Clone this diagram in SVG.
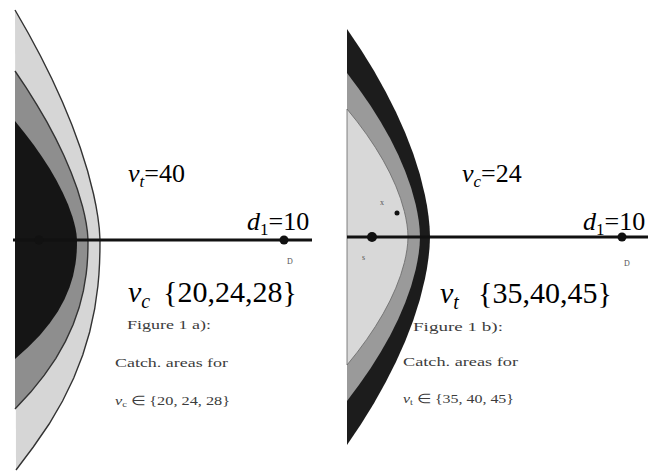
<svg xmlns="http://www.w3.org/2000/svg" width="659" height="471" viewBox="0 0 659 471">
<style>
.big{fill:#000}
.it{font-style:italic}
.small{fill:#3c3c3c;font-size:12.5px}
.tiny{fill:#555;font-size:8px}
.edge{fill:none;stroke:#333;stroke-width:1.4}
.axis{stroke:#111;stroke-width:3;fill:none}
.dot{fill:#111}
</style>
<rect width="659" height="471" fill="#fff"/>
<g id="fig-a-regions">
<polygon fill="#d6d6d6" points="15,10 28.18,33 40.52,56 51.97,79 62.46,102 71.96,125 80.37,148 87.62,171 93.53,194 95.91,205.5 97.87,217 99.29,228.5 100,240 99.91,251.5 99.57,263 98.92,274.5 97.9,286 94.67,309 89.67,332 82.74,355 73.74,378 62.57,401 49.12,424 33.29,447 16,470"/>
<polygon fill="#8e8e8e" points="15,71 26.32,87.9 36.91,104.8 46.75,121.7 55.76,138.6 63.92,155.5 71.14,172.4 77.36,189.3 82.44,206.2 84.49,214.65 86.17,223.1 87.39,231.55 88,240 87.93,248.45 87.64,256.9 87.07,265.35 86.2,273.8 83.42,290.7 79.13,307.6 73.17,324.5 65.45,341.4 55.86,358.3 44.3,375.2 30.71,392.1 15,409"/>
<polygon fill="#151515" points="15,121 24.62,132.9 33.61,144.8 41.96,156.7 49.62,168.6 56.55,180.5 62.68,192.4 67.97,204.3 72.28,216.2 74.02,222.15 75.44,228.1 76.49,234.05 77,240 76.94,245.95 76.69,251.9 76.21,257.85 75.47,263.8 73.11,275.7 69.47,287.6 64.41,299.5 57.85,311.4 49.7,323.3 39.89,335.2 28.34,347.1 15,359"/>
<polyline class="edge" points="15,10 28.18,33 40.52,56 51.97,79 62.46,102 71.96,125 80.37,148 87.62,171 93.53,194 95.91,205.5 97.87,217 99.29,228.5 100,240 99.91,251.5 99.57,263 98.92,274.5 97.9,286 94.67,309 89.67,332 82.74,355 73.74,378 62.57,401 49.12,424 33.29,447 16,470"/>
<polyline class="edge" points="15,71 26.32,87.9 36.91,104.8 46.75,121.7 55.76,138.6 63.92,155.5 71.14,172.4 77.36,189.3 82.44,206.2 84.49,214.65 86.17,223.1 87.39,231.55 88,240 87.93,248.45 87.64,256.9 87.07,265.35 86.2,273.8 83.42,290.7 79.13,307.6 73.17,324.5 65.45,341.4 55.86,358.3 44.3,375.2 30.71,392.1 15,409"/>
</g>
<g id="fig-b-regions">
<polygon fill="#1c1c1c" points="347,29 360.98,49.8 373.83,70.6 385.54,91.4 396.05,112.2 405.32,133 413.3,153.8 419.91,174.6 425.04,195.4 427,205.8 428.52,216.2 429.56,226.6 430,237 429.56,247.4 428.52,257.8 427,268.2 425.04,278.6 419.91,299.4 413.3,320.2 405.32,341 396.05,361.8 385.54,382.6 373.83,403.4 360.98,424.2 347,445"/>
<polygon fill="#9a9a9a" points="347,73 359.29,89.4 370.6,105.8 380.89,122.2 390.14,138.6 398.3,155 405.31,171.4 411.12,187.8 415.64,204.2 417.36,212.4 418.7,220.6 419.61,228.8 420,237 419.61,245.2 418.7,253.4 417.36,261.6 415.64,269.8 411.12,286.2 405.31,302.6 398.3,319 390.14,335.4 380.89,351.8 370.6,368.2 359.29,384.6 347,401"/>
<polygon fill="#d8d8d8" stroke="#666" stroke-width="0.8" points="347,109 357.27,121.8 366.72,134.6 375.32,147.4 383.05,160.2 389.86,173 395.73,185.8 400.58,198.6 404.35,211.4 405.79,217.8 406.92,224.2 407.68,230.6 408,237 407.68,243.4 406.92,249.8 405.79,256.2 404.35,262.6 400.58,275.4 395.73,288.2 389.86,301 383.05,313.8 375.32,326.6 366.72,339.4 357.27,352.2 347,365"/>
</g>
<g id="connectors">
<line class="axis" x1="13" y1="240" x2="312" y2="240"/>
<line class="axis" x1="347" y1="237" x2="648" y2="237"/>
</g>
<g id="node-a-s"><circle class="dot" cx="39" cy="240" r="4.5"/></g>
<g id="node-a-D"><circle class="dot" cx="284" cy="240" r="4.5"/><text class="tiny" font-family="Liberation Serif, serif" x="287" y="264">D</text></g>
<g id="node-b-s"><circle class="dot" cx="372" cy="237" r="5"/><text class="tiny" font-family="Liberation Serif, serif" x="362" y="260">s</text></g>
<g id="node-b-D"><circle class="dot" cx="622" cy="237" r="4.5"/><text class="tiny" font-family="Liberation Serif, serif" x="624" y="266">D</text></g>
<g id="node-b-x"><circle class="dot" cx="397" cy="213" r="2.5"/><text class="tiny" font-family="Liberation Serif, serif" x="380" y="205">x</text></g>
<g id="labels-a">
<text class="big" font-family="Liberation Serif, serif" x="128" y="182" font-size="26"><tspan class="it">v</tspan><tspan class="it" font-size="17" dy="5">t</tspan><tspan dy="-5">=40</tspan></text>
<text class="big" font-family="Liberation Serif, serif" x="247" y="230" font-size="26"><tspan class="it">d</tspan><tspan font-size="17" dy="5">1</tspan><tspan dy="-5">=10</tspan></text>
<text class="big" font-family="Liberation Serif, serif" x="128" y="302" font-size="30"><tspan class="it">v</tspan><tspan class="it" font-size="20" dy="6">c</tspan></text>
<text class="big" font-family="Liberation Serif, serif" x="163" y="302" font-size="30">{20,24,28}</text>
<text class="small" font-family="Liberation Serif, serif" x="127" y="329" textLength="84" lengthAdjust="spacingAndGlyphs">Figure 1 a):</text>
<text class="small" font-family="Liberation Serif, serif" x="115" y="367" textLength="113" lengthAdjust="spacingAndGlyphs">Catch. areas for</text>
<text class="small" font-family="Liberation Serif, serif" x="115" y="405" textLength="115" lengthAdjust="spacingAndGlyphs"><tspan font-style="italic">v</tspan><tspan font-size="8" dy="2">c</tspan><tspan dy="-2"> ∈ {20, 24, 28}</tspan></text>
</g>
<g id="labels-b">
<text class="big" font-family="Liberation Serif, serif" x="462" y="182" font-size="26"><tspan class="it">v</tspan><tspan class="it" font-size="17" dy="5">c</tspan><tspan dy="-5">=24</tspan></text>
<text class="big" font-family="Liberation Serif, serif" x="583" y="230" font-size="26"><tspan class="it">d</tspan><tspan font-size="17" dy="5">1</tspan><tspan dy="-5">=10</tspan></text>
<text class="big" font-family="Liberation Serif, serif" x="440" y="303" font-size="30"><tspan class="it">v</tspan><tspan class="it" font-size="20" dy="6">t</tspan></text>
<text class="big" font-family="Liberation Serif, serif" x="478" y="303" font-size="30">{35,40,45}</text>
<text class="small" font-family="Liberation Serif, serif" x="413" y="331" textLength="90" lengthAdjust="spacingAndGlyphs">Figure 1 b):</text>
<text class="small" font-family="Liberation Serif, serif" x="403" y="366" textLength="115" lengthAdjust="spacingAndGlyphs">Catch. areas for</text>
<text class="small" font-family="Liberation Serif, serif" x="403" y="403" textLength="111" lengthAdjust="spacingAndGlyphs"><tspan font-style="italic">v</tspan><tspan font-size="8" dy="2">t</tspan><tspan dy="-2"> ∈ {35, 40, 45}</tspan></text>
</g>
</svg>
